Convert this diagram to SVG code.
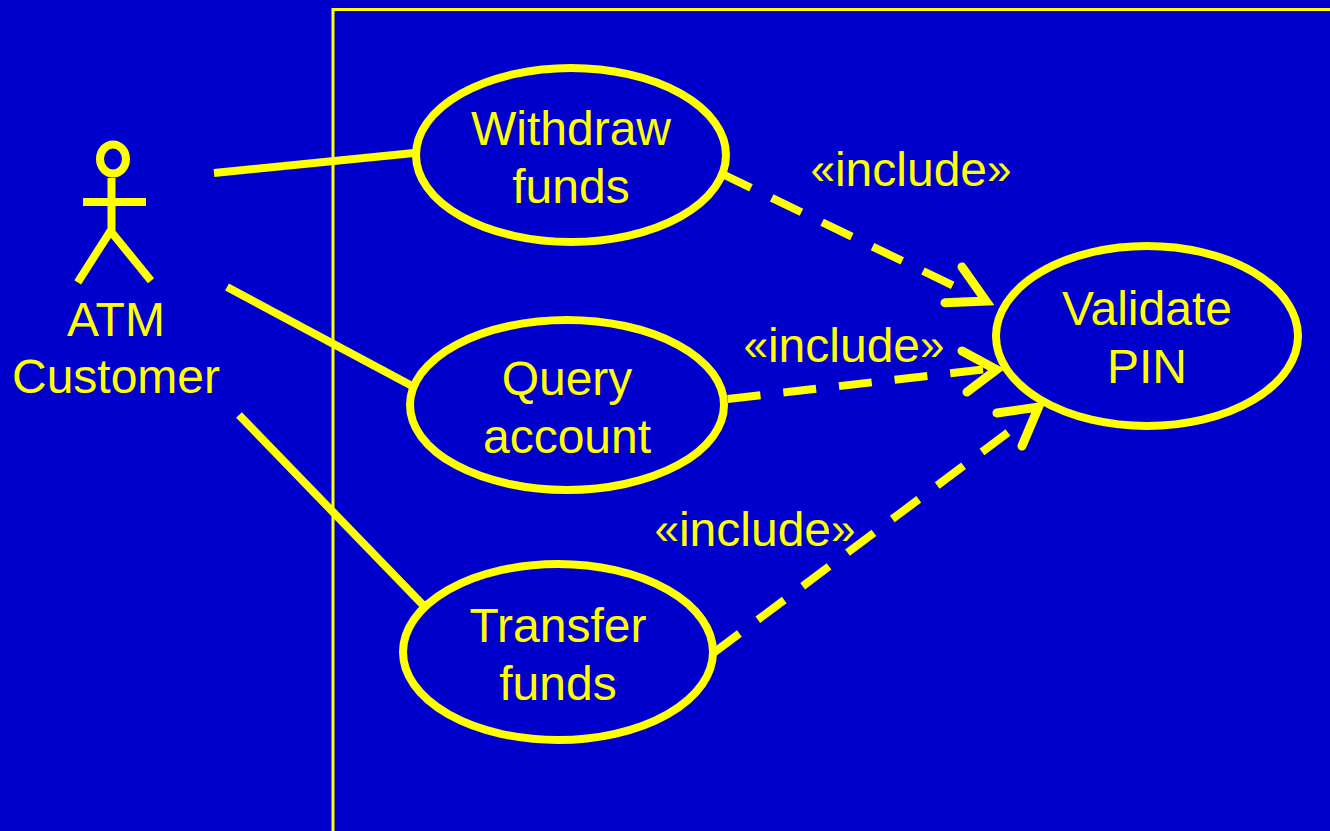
<svg xmlns="http://www.w3.org/2000/svg" width="1330" height="831" viewBox="0 0 1330 831">
<style>
text{font-family:"Liberation Sans",Arial,sans-serif;font-size:48px;fill:#ffff00;text-anchor:middle}
.g{font-size:44px}
.e{fill:none;stroke:#ffff00;stroke-width:8}
.l{fill:none;stroke:#ffff00;stroke-width:8}
.d{fill:none;stroke:#ffff00;stroke-width:8;stroke-dasharray:33 23}
.h{fill:none;stroke:#ffff00;stroke-width:9;stroke-linecap:round;stroke-linejoin:miter;stroke-miterlimit:10}
</style>
<rect width="1330" height="831" fill="#0000cc"/>
<path d="M333 831V9.500H1330" fill="none" stroke="#ffff00" stroke-width="3"/>
<g id="connectors">
<path class="l" d="M214 173L414 153"/>
<path class="l" d="M227 287L414 387"/>
<path class="l" d="M239 415L424 606"/>
<path class="d" d="M721.300 173.500L953 285.500"/>
<path class="h" d="M962 267L986 301L945 302.700"/>
<path class="d" d="M727.700 399L983 369.500"/>
<path class="h" d="M962 351L996.500 369.700L967 392"/>
<path class="d" d="M713 653.300L1008 432.500"/>
<path class="h" d="M997 413L1038.500 407L1022 446"/>
</g>
<g id="actor">
<ellipse class="e" cx="113" cy="159" rx="13" ry="14.500"/>
<path class="l" d="M111.500 178V231M83 202H146M77.700 282.300L110.500 231M110.500 231L151 280.700"/>
<text x="116" y="336">ATM</text>
<text x="116" y="393">Customer</text>
</g>
<g id="withdraw"><ellipse class="e" cx="571" cy="155" rx="155" ry="87"/><text x="571" y="145">Withdraw</text><text x="571" y="203">funds</text></g>
<g id="query"><ellipse class="e" cx="567" cy="405" rx="157" ry="85"/><text x="567" y="395">Query</text><text x="567" y="453">account</text></g>
<g id="transfer"><ellipse class="e" cx="558" cy="652" rx="155" ry="88"/><text x="558" y="642">Transfer</text><text x="558" y="700">funds</text></g>
<g id="validate"><ellipse class="e" cx="1147" cy="336" rx="151" ry="90"/><text x="1147" y="325">Validate</text><text x="1147" y="383">PIN</text></g>
<g id="labels">
<text x="911" y="185.500"><tspan class="g" dy="-2">«</tspan><tspan dy="2">include</tspan><tspan class="g" dy="-2">»</tspan></text>
<text x="844" y="361.500"><tspan class="g" dy="-2">«</tspan><tspan dy="2">include</tspan><tspan class="g" dy="-2">»</tspan></text>
<text x="755" y="545.500"><tspan class="g" dy="-2">«</tspan><tspan dy="2">include</tspan><tspan class="g" dy="-2">»</tspan></text>
</g>
</svg>
